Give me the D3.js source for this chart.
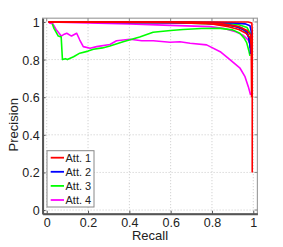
<!DOCTYPE html>
<html>
<head>
<meta charset="utf-8">
<script src="https://cdn.jsdelivr.net/npm/d3@7"></script>
<style>
  body { margin: 0; background: #fff; }
  text { font-family: "Liberation Sans", Arial, sans-serif; fill: #222; }
</style>
</head>
<body>
<div id="chart"></div>
<script>
(function () {
"use strict";

// recall / precision pairs, several runs per attribute
var att1Runs = [
  [[0.008, 1.0], [0.5, 1.0], [0.9, 1.0], [0.975, 1.0], [0.993, 0.995], [0.995, 0.95], [0.995, 0.6], [0.995, 0.2]],
  [[0.008, 1.0], [0.6, 0.998], [0.8, 0.99], [0.88, 0.975], [0.93, 0.96], [0.965, 0.94], [0.985, 0.915], [0.99, 0.88], [0.992, 0.6]],
  [[0.008, 1.0], [0.7, 0.998], [0.85, 0.99], [0.93, 0.975], [0.97, 0.955], [0.988, 0.93], [0.992, 0.85]]
];
var att2Runs = [
  [[0.01, 1.0], [0.7, 0.998], [0.85, 0.99], [0.92, 0.975], [0.96, 0.955], [0.978, 0.92], [0.985, 0.87], [0.987, 0.83]],
  [[0.01, 1.0], [0.8, 0.998], [0.9, 0.995], [0.96, 0.99], [0.984, 0.98], [0.99, 0.95], [0.992, 0.91]],
  [[0.01, 1.0], [0.75, 0.995], [0.88, 0.985], [0.94, 0.97], [0.97, 0.95], [0.982, 0.9], [0.985, 0.86]]
];
var att3Runs = [
  [[0.027, 0.99], [0.035, 0.966], [0.056, 0.925], [0.07, 0.92], [0.076, 0.8], [0.09, 0.805], [0.1, 0.8], [0.13, 0.815],
   [0.16, 0.834], [0.2, 0.845], [0.226, 0.855], [0.27, 0.862], [0.306, 0.872], [0.37, 0.895], [0.45, 0.92],
   [0.515, 0.945], [0.6, 0.955], [0.66, 0.96], [0.75, 0.965], [0.84, 0.966], [0.9, 0.958], [0.935, 0.94],
   [0.955, 0.915], [0.968, 0.89], [0.978, 0.85], [0.984, 0.82]],
  [[0.02, 1.0], [0.6, 0.998], [0.8, 0.99], [0.9, 0.98], [0.95, 0.965], [0.975, 0.93], [0.985, 0.88]],
  [[0.02, 1.0], [0.7, 0.998], [0.85, 0.995], [0.93, 0.985], [0.97, 0.97], [0.985, 0.94], [0.99, 0.9]]
];
var att4Runs = [
  [[0.011, 0.995], [0.03, 0.99], [0.045, 0.96], [0.06, 0.94], [0.07, 0.925], [0.085, 0.935], [0.097, 0.94],
   [0.12, 0.925], [0.145, 0.94], [0.16, 0.904], [0.177, 0.869], [0.21, 0.86], [0.242, 0.869], [0.306, 0.88],
   [0.338, 0.9], [0.403, 0.908], [0.46, 0.9], [0.516, 0.9], [0.597, 0.892], [0.645, 0.895], [0.694, 0.887],
   [0.774, 0.878], [0.84, 0.842], [0.887, 0.8], [0.936, 0.754], [0.96, 0.709], [0.976, 0.656], [0.987, 0.612]],
  [[0.011, 1.0], [0.2, 0.995], [0.4, 0.99], [0.6, 0.982], [0.79, 0.975], [0.86, 0.965], [0.91, 0.95],
   [0.95, 0.93], [0.975, 0.905], [0.985, 0.88]]
];

var legendLabels = ["Att. 1", "Att. 2", "Att. 3", "Att. 4"];
var colors = ["#ff0000", "#0000ff", "#00ff00", "#ff00ff"];
var xTicks = [0, 0.2, 0.4, 0.6, 0.8, 1];
var yTicks = [0, 0.2, 0.4, 0.6, 0.8, 1];

var width = 283,
    height = 247,
    left = 42.6,
    right = 257.4,
    top = 18.2,
    bottom = 213.8;

var svg = d3.select("#chart").append("svg")
    .attr("width", width)
    .attr("height", height);

var x = d3.scaleLinear().domain([-0.02, 1.02]).range([left, right]);
var y = d3.scaleLinear().domain([-0.02, 1.02]).range([bottom, top]);

// grid
svg.append("g").selectAll("line.vg")
    .data(xTicks)
    .enter().append("line")
    .attr("x1", function (d) { return x(d); })
    .attr("x2", function (d) { return x(d); })
    .attr("y1", top)
    .attr("y2", bottom)
    .attr("stroke", "#c8c8c8")
    .attr("stroke-width", 1)
    .attr("stroke-dasharray", "1,2");

svg.append("g").selectAll("line.hg")
    .data(yTicks)
    .enter().append("line")
    .attr("y1", function (d) { return y(d); })
    .attr("y2", function (d) { return y(d); })
    .attr("x1", left)
    .attr("x2", right)
    .attr("stroke", "#c8c8c8")
    .attr("stroke-width", 1)
    .attr("stroke-dasharray", "1,2");

// curves, last attribute at the bottom
var allRuns = [att1Runs, att2Runs, att3Runs, att4Runs];
var line = d3.line()
    .x(function (d) { return x(d[0]); })
    .y(function (d) { return y(d[1]); });

for (var a = allRuns.length - 1; a >= 0; a--) {
    svg.append("g").selectAll("path")
        .data(allRuns[a])
        .enter().append("path")
        .attr("d", line)
        .attr("fill", "none")
        .attr("stroke", colors[a])
        .attr("stroke-width", 1.6)
        .attr("stroke-linejoin", "round");
}

// frame
svg.append("rect")
    .attr("x", left)
    .attr("y", top)
    .attr("width", right - left)
    .attr("height", bottom - top)
    .attr("fill", "none")
    .attr("stroke", "#a0a0a0")
    .attr("stroke-width", 1.2);

var xAxis = svg.append("g")
    .attr("transform", "translate(0," + bottom + ")")
    .call(d3.axisBottom(x).tickValues(xTicks).tickSizeInner(-3).tickSizeOuter(0)
        .tickFormat(d3.format("")));
var yAxis = svg.append("g")
    .attr("transform", "translate(" + left + ",0)")
    .call(d3.axisLeft(y).tickValues(yTicks).tickSizeInner(-3).tickSizeOuter(0)
        .tickFormat(d3.format("")));

xAxis.select(".domain").attr("stroke", "#555").attr("stroke-width", 2);
yAxis.select(".domain").attr("stroke", "#555").attr("stroke-width", 2);
svg.selectAll(".tick line").attr("stroke", "#555");
xAxis.selectAll("text")
    .attr("y", 4)
    .attr("dy", "0.71em")
    .style("font-size", "12.5px")
    .attr("fill", "#222");
yAxis.selectAll("text")
    .attr("x", -3)
    .attr("dy", "0.36em")
    .style("font-size", "12.5px")
    .attr("fill", "#222");

// right-side ticks like the box axes
svg.append("g").selectAll("line")
    .data(yTicks)
    .enter().append("line")
    .attr("x1", right)
    .attr("x2", right - 3)
    .attr("y1", function (d) { return y(d); })
    .attr("y2", function (d) { return y(d); })
    .attr("stroke", "#888");
svg.append("g").selectAll("line")
    .data(xTicks)
    .enter().append("line")
    .attr("y1", top)
    .attr("y2", top + 3)
    .attr("x1", function (d) { return x(d); })
    .attr("x2", function (d) { return x(d); })
    .attr("stroke", "#888");

svg.append("text")
    .attr("x", (left + right) / 2)
    .attr("y", 239.5)
    .attr("text-anchor", "middle")
    .style("font-size", "13px")
    .text("Recall");

svg.append("text")
    .attr("transform", "translate(18," + 124.7 + ") rotate(-90)")
    .attr("text-anchor", "middle")
    .style("font-size", "13px")
    .text("Precision");

// legend
var legend = svg.append("g");
legend.append("rect")
    .attr("x", 47)
    .attr("y", 150.7)
    .attr("width", 47)
    .attr("height", 56.3)
    .attr("fill", "#fff")
    .attr("stroke", "#888")
    .attr("stroke-width", 1);

var items = legend.selectAll("g.item")
    .data(legendLabels)
    .enter().append("g")
    .attr("transform", function (d, i) { return "translate(0," + (157.7 + i * 14.1) + ")"; });
items.append("line")
    .attr("x1", 50.7)
    .attr("x2", 64)
    .attr("stroke", function (d, i) { return colors[i]; })
    .attr("stroke-width", 1.8);
items.append("text")
    .attr("x", 65.5)
    .attr("dy", "0.36em")
    .style("font-size", "11px")
    .text(function (d) { return d; });

})();
</script>
</body>
</html>
